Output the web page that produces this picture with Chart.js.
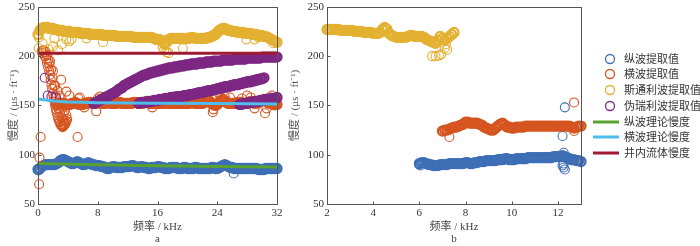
<!DOCTYPE html>
<html>
<head>
<meta charset="utf-8">
<script src="https://cdn.jsdelivr.net/npm/chart.js@4.4.0/dist/chart.umd.min.js"></script>
<style>
  html, body { margin: 0; padding: 0; background: #fff; width: 700px; height: 246px; overflow: hidden; position: relative; }
  canvas { position: absolute; top: 0; }
  #chartA { left: 0; }
  #chartB { left: 285px; }
  #legend { position: absolute; left: 593px; top: 0; font: 11px "Liberation Serif", "Noto Sans CJK SC", serif; color: #333; }
  .item { position: absolute; left: 0; width: 110px; height: 16px; line-height: 16px; white-space: nowrap; }
  .item svg { position: absolute; left: 0; top: 0; }
  .item span { position: absolute; left: 31px; top: 0; }
</style>
</head>
<body>
<canvas id="chartA" width="290" height="246"></canvas>
<canvas id="chartB" width="415" height="246"></canvas>
<div id="legend"></div>
<script>
// series names / colours (legend order)
const seriesNames = ['纵波提取值', '横波提取值', '斯通利波提取值', '伪瑞利波提取值', '纵波理论慢度', '横波理论慢度', '井内流体慢度'];
const seriesColors = ['#3d6eb6', '#d6541f', '#e3b030', '#7d2783', '#5aa22e', '#4fbdec', '#a01a32'];

// ---- panel a : frequency grid (kHz)
const freqA = [
  0, 0.25, 0.5, 0.75, 1, 1.25, 1.5, 1.75,
  2, 2.25, 2.5, 2.75, 3, 3.25, 3.5, 3.75,
  4, 4.25, 4.5, 4.75, 5, 5.25, 5.5, 5.75,
  6, 6.25, 6.5, 6.75, 7, 7.25, 7.5, 7.75,
  8, 8.25, 8.5, 8.75, 9, 9.25, 9.5, 9.75,
  10, 10.25, 10.5, 10.75, 11, 11.25, 11.5, 11.75,
  12, 12.25, 12.5, 12.75, 13, 13.25, 13.5, 13.75,
  14, 14.25, 14.5, 14.75, 15, 15.25, 15.5, 15.75,
  16, 16.25, 16.5, 16.75, 17, 17.25, 17.5, 17.75,
  18, 18.25, 18.5, 18.75, 19, 19.25, 19.5, 19.75,
  20, 20.25, 20.5, 20.75, 21, 21.25, 21.5, 21.75,
  22, 22.25, 22.5, 22.75, 23, 23.25, 23.5, 23.75,
  24, 24.25, 24.5, 24.75, 25, 25.25, 25.5, 25.75,
  26, 26.25, 26.5, 26.75, 27, 27.25, 27.5, 27.75,
  28, 28.25, 28.5, 28.75, 29, 29.25, 29.5, 29.75,
  30, 30.25, 30.5, 30.75, 31, 31.25, 31.5, 31.75,
  32
];

// P-wave extracted slowness (us/ft)
const aPwave = [
  85, 86, 88, 89, 90, 90, 90, 90,
  90, 90, 91, 92, 94, 95, 95, 94,
  93, 92, 91, 91, 92, 93, 92, 91,
  90, 90, 91, 92, 91, 90, 90, 89,
  89, 89, 88, 88, 87, 86, 86, 87,
  88, 88, 87, 87, 87, 87, 88, 88,
  88, 88, 89, 89, 88, 87, 87, 88,
  88, 87, 87, 86, 86, 87, 87, 87,
  88, 88, 87, 87, 86, 86, 86, 87,
  87, 87, 87, 86, 86, 86, 87, 87,
  86, 86, 86, 86, 87, 87, 86, 86,
  86, 86, 86, 86, 86, 87, 87, 86,
  86, 87, 88, 89, 90, 89, 88, 87,
  87, 86, 86, 86, 86, 86, 86, 86,
  86, 86, 86, 86, 86, 86, 85, 85,
  85, 85, 86, 86, 86, 86, 86, 86,
  86
];
const aPwaveOutF = [0.1, 26.2];
const aPwaveOutV = [84, 81];

// S-wave extracted
const aSwave = [
  null, null, null, null, null, null, null, null,
  null, null, 151, 151, 152, 152, 152, 151,
  151, 151, 152, 152, 153, 152, 151, 151,
  151, 152, 152, 153, 153, 152, 152, 152,
  153, 153, 152, 152, 152, 153, 153, 152,
  152, 152, 152, 153, 153, 152, 152, 152,
  152, 152, 152, 153, 153, 153, 152, 152,
  152, 153, 154, 153, 152, 152, 152, 152,
  152, 152, 152, 152, 152, 153, 152, 152,
  152, 152, 152, 152, 152, 152, 152, 152,
  152, 152, 153, 153, 152, 152, 152, 152,
  152, 153, 154, 155, 154, 152, 151, 150,
  151, 153, 155, 156, 155, 153, 152, 152,
  152, 152, 152, 153, 153, 153, 152, 152,
  152, 153, 154, 153, 152, 152, 153, 154,
  155, 156, 155, 153, 152, 152, 151, 151,
  151
];
const aSwaveOutF = [
  0.15, 0.2, 0.35, 0.5, 0.6, 0.75, 0.9, 1.0, 1.1, 1.2, 1.25, 1.35, 1.4, 1.5, 1.55, 1.6,
  1.7, 1.75, 1.8, 1.9, 1.95, 2.0, 2.1, 2.15, 2.2, 2.3, 2.35, 2.4, 2.5, 2.55, 2.6, 2.7,
  2.75, 2.8, 2.9, 2.95, 3.0, 3.1, 3.15, 3.2, 3.3, 3.35, 3.4, 3.5, 3.55, 3.6, 3.7, 3.8,
  3.9, 3.1, 3.8, 4.2, 5.3, 5.4, 5.6, 6.2, 7.8, 8.0, 8.3, 9.0, 15.3, 19.5, 23.4, 23.5,
  24.3, 24.5, 25.0, 25.7, 27.3, 28.0, 28.5, 29.0, 29.6, 30.4, 30.6, 31.0, 31.3, 31.7,
  1.6, 2.0, 2.3, 2.6, 2.9, 3.3, 3.4, 3.6, 3.8, 4.0
];
const aSwaveOutV = [
  70, 97, 118, 205, 203, 206, 200, 204, 197, 193, 201, 189, 196, 185, 192, 181,
  176, 186, 171, 167, 178, 162, 158, 170, 154, 150, 160, 146, 143, 152, 140, 137,
  147, 135, 133, 142, 131, 130, 138, 129, 128, 135, 129, 130, 134, 131, 132, 134,
  136, 176, 164, 160, 118, 157, 158, 148, 144, 157, 159, 158, 148, 157, 143, 146,
  161, 158, 159, 158, 157, 160, 158, 147, 155, 142, 147, 158, 160, 150,
  195, 185, 170, 165, 160, 150, 140, 145, 140, 150
];

// Stoneley extracted
const aStoneley = [
  222, 226, 228, 229, 229, 229, 228, 228,
  228, 227, 227, 226, 226, 226, 225, 225,
  225, 225, 224, 224, 224, 224, 224, 223,
  223, 223, 223, 223, 222, 222, 222, 222,
  222, 222, 222, 221, 221, 221, 221, 221,
  221, 221, 220, 220, 220, 220, 220, 220,
  220, 220, 220, 219, 219, 219, 219, 219,
  219, 219, 219, 219, 219, 219, 218, 217,
  217, 217, 216, 214, 212, 214, 217, 218,
  218, 218, 218, 218, 218, 218, 218, 218,
  218, 218, 219, 219, 218, 218, 218, 218,
  218, 218, 218, 219, 219, 220, 221, 222,
  224, 226, 227, 228, 228, 227, 226, 226,
  225, 225, 225, 224, 224, 224, 224, 223,
  223, 223, 223, 222, 222, 222, 221, 221,
  221, 220, 220, 219, 218, 217, 216, 215,
  214
];
const aStoneleyOutF = [0.1, 0.1, 0.6, 1.4, 2.0, 2.2, 2.7, 3.2, 3.8, 4.2, 4.5, 6.5, 8.7, 16.7, 16.9, 17.2, 17.5, 19.4, 27.9, 29.0, 29.5, 31.5];
const aStoneleyOutV = [219, 208, 213, 207, 210, 218, 206, 212, 217, 215, 217, 218, 214, 209, 206, 204, 203, 208, 217, 217, 219, 213];

// pseudo-Rayleigh extracted, three branches
const aPR1 = [
  null, null, null, null, null, null, null, null,
  null, null, null, null, null, null, null, null,
  null, null, null, null, null, null, null, null,
  null, null, null, null, null, null, 152, 153,
  154, 155, 156, 157, 158, 159, 160, 161,
  162, 163, 164, 166, 167, 168, 170, 171,
  172, 173, 174, 175, 176, 177, 178, 179,
  180, 181, 181, 182, 183, 183, 184, 184,
  185, 185, 186, 186, 187, 187, 188, 188,
  188, 189, 189, 189, 190, 190, 190, 191,
  191, 191, 192, 192, 192, 192, 193, 193,
  193, 193, 194, 194, 194, 194, 195, 195,
  195, 195, 195, 196, 196, 196, 196, 196,
  196, 197, 197, 197, 197, 197, 197, 197,
  198, 198, 198, 198, 198, 198, 198, 198,
  199, 199, 199, 199, 199, 199, 199, 199,
  199
];
const aPR2 = [
  null, null, null, null, null, null, null, null,
  null, null, null, null, null, null, null, null,
  null, null, null, null, null, null, null, null,
  null, null, null, null, null, null, null, null,
  null, null, null, null, null, null, null, null,
  null, null, null, null, null, null, null, null,
  null, null, null, null, null, null, 152, 153,
  153, 153, 153, 154, 154, 154, 155, 155,
  155, 156, 156, 156, 157, 157, 157, 158,
  158, 158, 159, 159, 159, 159, 160, 160,
  160, 161, 161, 161, 162, 162, 163, 163,
  163, 164, 164, 165, 165, 165, 166, 166,
  167, 167, 168, 168, 169, 169, 169, 170,
  170, 171, 171, 171, 172, 172, 173, 173,
  174, 174, 174, 175, 175, 176, 176, 177,
  177, 178, null, null, null, null, null, null,
  null
];
const aPR3 = [
  null, null, null, null, null, null, null, null,
  null, null, null, null, null, null, null, null,
  null, null, null, null, null, null, null, null,
  null, null, null, null, null, null, null, null,
  null, null, null, null, null, null, null, null,
  null, null, null, null, null, null, null, null,
  null, null, null, null, null, null, null, null,
  null, null, null, null, null, null, null, null,
  null, null, null, null, null, null, null, null,
  null, null, null, null, null, null, null, null,
  null, null, null, null, null, null, null, null,
  null, null, null, null, null, null, null, null,
  null, null, null, null, null, null, null, null,
  null, null, null, null, 151, 151, 152, 152,
  152, 153, 153, 153, 154, 154, 154, 155,
  155, 155, 156, 156, 156, 157, 157, 157,
  158
];
const aPROutF = [0.9, 1.3, 1.8, 2.4, 14.6, 30.3];
const aPROutV = [178, 160, 159, 158, 154, 156];

// theoretical slowness lines
const pTheoryF = [0, 8, 16, 24, 32];
const pTheoryV = [91, 89.7, 88.7, 88, 87.6];
const sTheoryF = [0, 1, 2, 3, 4, 6, 8, 16, 24, 32];
const sTheoryV = [156.5, 155.5, 154.5, 153.9, 153.5, 153.1, 152.8, 152.3, 151.9, 151.5];
const fluidF = [0, 32];
const fluidV = [203, 203];

// ---- panel b
const freqB = [
  2, 2.1, 2.2, 2.3, 2.4, 2.5, 2.6, 2.7, 2.8, 2.9,
  3, 3.1, 3.2, 3.3, 3.4, 3.5, 3.6, 3.7, 3.8, 3.9,
  4, 4.1, 4.2, 4.3, 4.4, 4.5, 4.6, 4.7, 4.8, 4.9,
  5, 5.1, 5.2, 5.3, 5.4, 5.5, 5.6, 5.7, 5.8, 5.9,
  6, 6.1, 6.2, 6.3, 6.4, 6.5, 6.6, 6.7, 6.8, 6.9,
  7, 7.1, 7.2, 7.3, 7.4, 7.5, 7.6, 7.7, 7.8, 7.9,
  8, 8.1, 8.2, 8.3, 8.4, 8.5, 8.6, 8.7, 8.8, 8.9,
  9, 9.1, 9.2, 9.3, 9.4, 9.5, 9.6, 9.7, 9.8, 9.9,
  10, 10.1, 10.2, 10.3, 10.4, 10.5, 10.6, 10.7, 10.8, 10.9,
  11, 11.1, 11.2, 11.3, 11.4, 11.5, 11.6, 11.7, 11.8, 11.9,
  12, 12.1, 12.2, 12.3, 12.4, 12.5, 12.6, 12.7, 12.8, 12.9,
  13
];
const bPwave = [
  null, null, null, null, null, null, null, null, null, null,
  null, null, null, null, null, null, null, null, null, null,
  null, null, null, null, null, null, null, null, null, null,
  null, null, null, null, null, null, null, null, null, null,
  91, 92, 92, 91, 90, 90, 89, 89, 89, 90,
  90, 90, 90, 91, 91, 91, 91, 91, 91, 91,
  92, 92, 91, 91, 92, 92, 93, 93, 93, 94,
  94, 94, 94, 94, 95, 95, 95, 96, 96, 95,
  95, 95, 96, 96, 96, 96, 96, 97, 97, 97,
  97, 97, 97, 97, 97, 97, 97, 97, 98, 98,
  98, 98, 99, 98, 97, 96, 95, 95, 94, 94,
  93
];
const bPwaveOutF = [6.0, 6.05, 12.2, 12.25, 12.25, 12.25, 12.3, 12.2, 12.3];
const bPwaveOutV = [90, 89, 119, 102, 91, 87, 85, 89, 148];
const bSwave = [
  null, null, null, null, null, null, null, null, null, null,
  null, null, null, null, null, null, null, null, null, null,
  null, null, null, null, null, null, null, null, null, null,
  null, null, null, null, null, null, null, null, null, null,
  null, null, null, null, null, null, null, null, null, null,
  124, 125, 125, 126, 127, 128, 128, 129, 130, 131,
  133, 133, 132, 132, 132, 132, 131, 130, 128, 127,
  126, 125, 125, 127, 129, 131, 132, 130, 128, 128,
  127, 127, 128, 128, 128, 128, 129, 129, 129, 129,
  129, 129, 129, 129, 129, 129, 129, 129, 129, 129,
  129, 129, 129, 129, 129, 129, 128, 127, 128, 129,
  129
];
const bSwaveOutF = [7.3, 12.7, 12.7];
const bSwaveOutV = [118, 153, 124];
const bStoneley = [
  227, 227, 227, 227, 227, 227, 226, 226, 226, 226,
  226, 226, 225, 225, 225, 225, 224, 224, 224, 224,
  223, 223, 223, 224, 227, 229, 227, 223, 221, 220,
  219, 219, 219, 219, 219, 220, 221, 221, 220, 220,
  220, 220, 219, 217, 216, 215, 214, 213, 216, 220,
  218, 216, 218, 220, 222, 224, null, null, null, null,
  null, null, null, null, null, null, null, null, null, null,
  null, null, null, null, null, null, null, null, null, null,
  null, null, null, null, null, null, null, null, null, null,
  null, null, null, null, null, null, null, null, null, null,
  null, null, null, null, null, null, null, null, null, null,
  null
];
const bStoneleyOutF = [6.55, 6.7, 6.85, 6.95, 7.1, 7.2, 7.15];
const bStoneleyOutV = [200, 200, 200.5, 202, 208, 206.5, 212];

const yTicks = [50, 100, 150, 200, 250];

// ---------------------------------------------------------------
const FONT = '"Liberation Serif", "Noto Sans CJK SC", serif';
Chart.defaults.font.family = FONT;
Chart.defaults.font.size = 11;
Chart.defaults.color = '#333';

// band points get a heavier ring than isolated outliers
function pts(xs, ys, single) {
  const out = [];
  xs.forEach((x, i) => { if (ys[i] !== null && ys[i] !== undefined) out.push({ x: x, y: ys[i], single: !!single }); });
  return out;
}

function scatterSet(idx, data, order) {
  return {
    label: seriesNames[idx], data: data, order: order, showLine: false,
    borderColor: seriesColors[idx], backgroundColor: 'rgba(0,0,0,0)',
    pointBackgroundColor: 'rgba(0,0,0,0)', pointBorderColor: seriesColors[idx],
    pointRadius: 4.5, pointHoverRadius: 4.5,
    pointBorderWidth: (ctx) => (ctx.raw && ctx.raw.single ? 1.1 : 2.3),
    clip: false
  };
}
function lineSet(idx, data, order) {
  return {
    label: seriesNames[idx], data: data, order: order, showLine: true,
    borderColor: seriesColors[idx], backgroundColor: seriesColors[idx],
    borderWidth: 3, pointRadius: 0, pointHoverRadius: 0, fill: false, clip: false
  };
}

// box round the plot area and inward ticks
const framePlugin = {
  id: 'frame',
  afterDraw(chart) {
    const { ctx, chartArea: a, scales } = chart;
    const l = Math.round(a.left) + 0.5, t = Math.round(a.top) + 0.5;
    const r = Math.round(a.right) + 0.5, b = Math.round(a.bottom) + 0.5;
    ctx.save();
    ctx.strokeStyle = '#555';
    ctx.lineWidth = 1;
    ctx.strokeRect(l, t, r - l, b - t);
    ctx.beginPath();
    scales.x.ticks.forEach(tk => {
      const px = Math.round(scales.x.getPixelForValue(tk.value)) + 0.5;
      ctx.moveTo(px, b); ctx.lineTo(px, b - 3);
    });
    scales.y.ticks.forEach(tk => {
      const py = Math.round(scales.y.getPixelForValue(tk.value)) + 0.5;
      ctx.moveTo(l, py); ctx.lineTo(l + 3, py);
    });
    ctx.stroke();
    ctx.restore();
  }
};

function makeScales(xMin, xMax, xStep, sub, yWidth, yTitlePad) {
  return {
    x: {
      type: 'linear', min: xMin, max: xMax,
      grid: { display: false, drawTicks: false }, border: { display: false },
      ticks: { stepSize: xStep, includeBounds: false, padding: 3, maxRotation: 0, color: '#333' },
      title: { display: true, text: ['频率 / kHz', sub], color: '#444', font: { size: 11, lineHeight: 1.1 }, padding: { top: 0, bottom: 1 } },
      afterFit(s) { s.height = 42; s.paddingLeft = 0; s.paddingRight = 0; }
    },
    y: {
      type: 'linear', min: 50, max: 250,
      grid: { display: false, drawTicks: false }, border: { display: false },
      afterBuildTicks(s) { s.ticks = yTicks.map(v => ({ value: v })); },
      ticks: { padding: 3, color: '#333' },
      title: { display: true, text: '慢度 / (μs · ft⁻¹)', color: '#555', font: { size: 11, lineHeight: 1.2 }, padding: { top: yTitlePad, bottom: 0 } },
      afterFit(s) { s.width = yWidth; s.paddingTop = 0; s.paddingBottom = 0; }
    }
  };
}

const baseOptions = (scales, padRight) => ({
  responsive: false, devicePixelRatio: 1, animation: false,
  layout: { padding: { top: 5, right: padRight, left: 0, bottom: 0 } },
  plugins: { legend: { display: false }, tooltip: { enabled: false } },
  scales: scales
});

const chartA = new Chart(document.getElementById('chartA'), {
  type: 'scatter',
  data: {
    datasets: [
      scatterSet(0, pts(freqA, aPwave).concat(pts(aPwaveOutF, aPwaveOutV, true)), 7),
      scatterSet(1, pts(freqA, aSwave).concat(pts(aSwaveOutF, aSwaveOutV, true)), 6),
      scatterSet(2, pts(freqA, aStoneley).concat(pts(aStoneleyOutF, aStoneleyOutV, true)), 5),
      scatterSet(3, pts(freqA, aPR1).concat(pts(freqA, aPR2), pts(freqA, aPR3), pts(aPROutF, aPROutV, true)), 4),
      lineSet(4, pts(pTheoryF, pTheoryV), 3),
      lineSet(5, pts(sTheoryF, sTheoryV), 2),
      lineSet(6, pts(fluidF, fluidV), 1)
    ]
  },
  options: baseOptions(makeScales(0, 32, 8, 'a', 38, 7.4), 13),
  plugins: [framePlugin]
});

const chartB = new Chart(document.getElementById('chartB'), {
  type: 'scatter',
  data: {
    datasets: [
      scatterSet(0, pts(freqB, bPwave).concat(pts(bPwaveOutF, bPwaveOutV, true)), 7),
      scatterSet(1, pts(freqB, bSwave).concat(pts(bSwaveOutF, bSwaveOutV, true)), 6),
      scatterSet(2, pts(freqB, bStoneley).concat(pts(bStoneleyOutF, bStoneleyOutV, true)), 5)
    ]
  },
  options: baseOptions(makeScales(2, 13, 2, 'b', 42, 3.4), 119),
  plugins: [framePlugin]
});

// html legend built from panel a datasets
const legendEl = document.getElementById('legend');
chartA.data.datasets.forEach((ds, i) => {
  const row = document.createElement('div');
  row.className = 'item';
  row.style.top = (58.7 + i * 15.7 - 8) + 'px';
  const icon = ds.showLine
    ? '<line x1="0" y1="8" x2="26" y2="8" stroke="' + ds.borderColor + '" stroke-width="3"/>'
    : '<circle cx="17" cy="8" r="4.5" fill="none" stroke="' + ds.borderColor + '" stroke-width="1.3"/>';
  row.innerHTML = '<svg width="30" height="16">' + icon + '</svg><span>' + ds.label + '</span>';
  legendEl.appendChild(row);
});
</script>
</body>
</html>
